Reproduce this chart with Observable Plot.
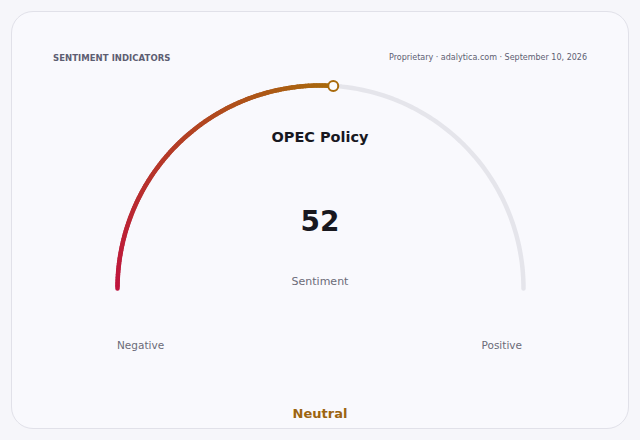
<!DOCTYPE html>
<html><head><meta charset="utf-8">
<script src="https://cdn.jsdelivr.net/npm/d3@7"></script>
<script src="https://cdn.jsdelivr.net/npm/@observablehq/plot@0.6"></script>
<style>
html,body{margin:0;padding:0;background:#f6f6fa;font-family:"DejaVu Sans",sans-serif;}
#wrap{position:relative;width:640px;height:440px;overflow:hidden;}
#card{position:absolute;left:11px;top:11px;width:616px;height:416px;border:1px solid #e1e1e9;border-radius:22px;background:#f9f9fd;}
.t{position:absolute;white-space:nowrap;}
#plot{position:absolute;left:0;top:0;}
</style></head>
<body><div id="wrap"><div id="card"></div><div id="plot"></div>
<div class="t" id="hdrL" style="left:53px;top:53px;font-size:8.5px;font-weight:bold;color:#5d5e72;letter-spacing:0.05px"></div>
<div class="t" id="hdrR" style="right:53px;top:53px;font-size:8px;color:#5d5e72"></div>
<div class="t" id="title" style="left:0;width:640px;text-align:center;top:129px;font-size:14.5px;font-weight:bold;color:#18181f"></div>
<div class="t" id="val" style="left:0;width:640px;text-align:center;top:205px;font-size:28px;font-weight:bold;color:#18181f"></div>
<div class="t" id="lab" style="left:0;width:640px;text-align:center;top:275px;font-size:11px;color:#6b6b78"></div>
<div class="t" id="neg" style="left:117px;top:339px;font-size:10.5px;color:#6b6b78"></div>
<div class="t" id="pos" style="right:118px;top:339px;font-size:10.5px;color:#6b6b78"></div>
<div class="t" id="cat" style="left:0;width:640px;text-align:center;top:406px;font-size:13px;font-weight:bold;color:#9c6410"></div>
</div>
<script>
const headerLeft = "SENTIMENT INDICATORS";
const headerRight = "Proprietary · adalytica.com · September 10, 2026";
const indicator = "OPEC Policy";
const value = 52;
const domainMin = 0, domainMax = 100;
const metricLabel = "Sentiment";
const endLabels = ["Negative", "Positive"];
const category = "Neutral";
const gradientColors = ["#c0143e", "#a86a0c"];
const trackColor = "#e5e5eb";

document.getElementById("hdrL").textContent = headerLeft;
document.getElementById("hdrR").textContent = headerRight;
document.getElementById("title").textContent = indicator;
document.getElementById("val").textContent = value;
document.getElementById("lab").textContent = metricLabel;
document.getElementById("neg").textContent = endLabels[0];
document.getElementById("pos").textContent = endLabels[1];
document.getElementById("cat").textContent = category;

// geometry helpers: value -> unit circle point (upper half)
const ang = v => Math.PI * (1 - (v - domainMin) / (domainMax - domainMin));
const pt = v => ({x: Math.cos(ang(v)), y: Math.sin(ang(v)), v});
const N = 120;
const track = d3.range(N + 1).map(i => pt(domainMin + (domainMax - domainMin) * i / N));
const fillPts = d3.range(N + 1).map(i => pt(domainMin + (value - domainMin) * i / N));
const segs = fillPts.slice(1).map((p, i) => ({x1: fillPts[i].x, y1: fillPts[i].y, x2: p.x, y2: p.y, v: (fillPts[i].v + p.v) / 2}));

const R = 203, cx = 320, cy = 288, W = 640, H = 440;
const chart = Plot.plot({
  width: W, height: H, margin: 0,
  style: {background: "transparent", overflow: "visible"},
  x: {domain: [-cx / R, (W - cx) / R], axis: null},
  y: {domain: [(cy - H) / R, cy / R], axis: null},
  color: {type: "linear", domain: [domainMin, value], range: gradientColors},
  marks: [
    Plot.line(track, {x: "x", y: "y", stroke: trackColor, strokeWidth: 4.5, strokeLinecap: "round"}),
    Plot.link(segs, {x1: "x1", y1: "y1", x2: "x2", y2: "y2", stroke: "v", strokeWidth: 4.5, strokeLinecap: "round"}),
    Plot.dot([pt(value)], {x: "x", y: "y", r: 5, fill: "#fbfbfd", stroke: gradientColors[1], strokeWidth: 2})
  ]
});
document.getElementById("plot").appendChild(chart);
</script></body></html>
